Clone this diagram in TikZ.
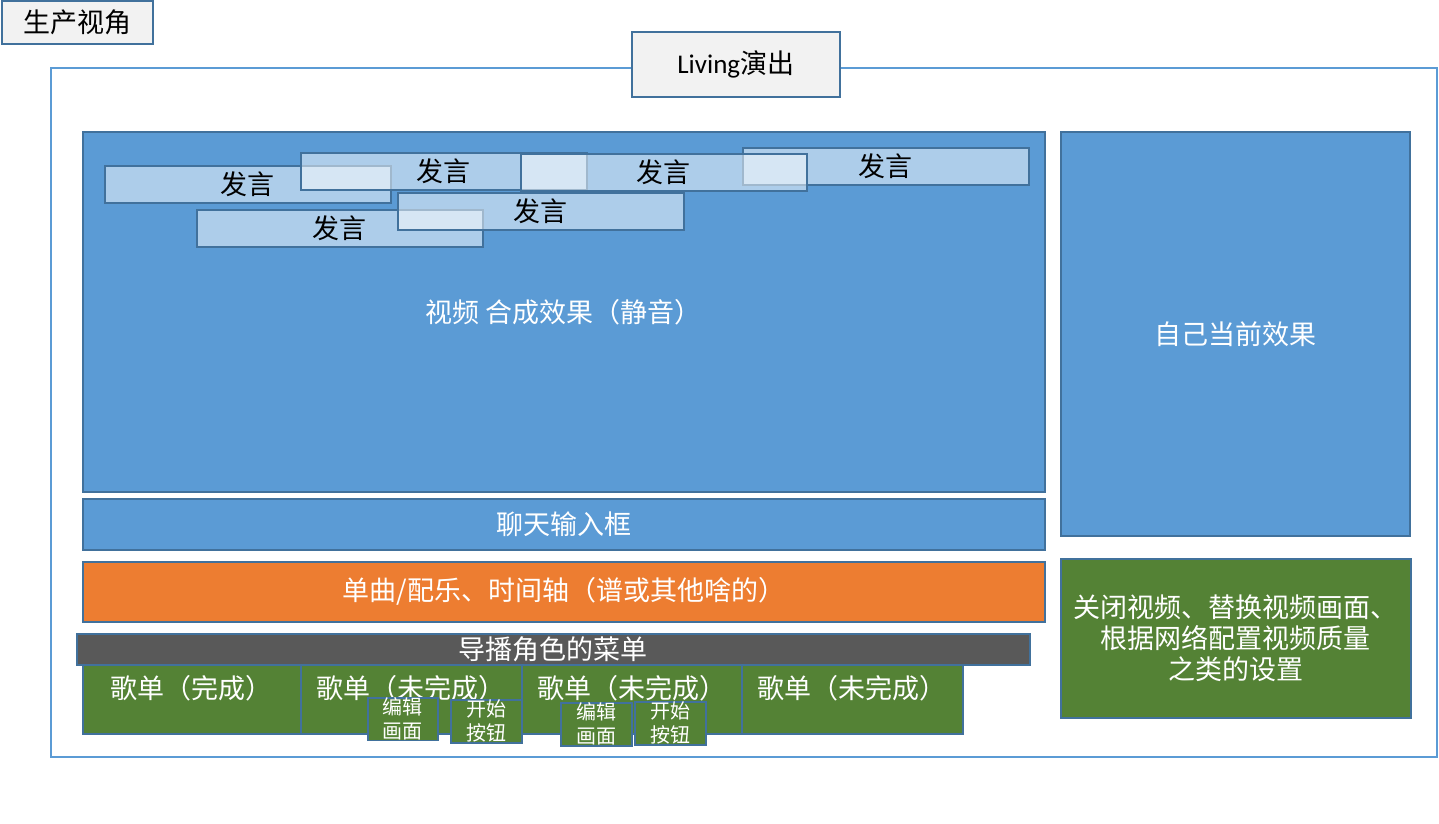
\documentclass[tikz,border=0pt]{standalone}
\usepackage{fontspec}
\newfontfamily\cjk{Noto Sans CJK SC}
\newfontfamily\lat{Carlito}
\definecolor{bfill}{HTML}{5B9BD5}
\definecolor{bdr}{HTML}{41719C}
\definecolor{lgray}{HTML}{F2F2F2}
\definecolor{orng}{HTML}{ED7D31}
\definecolor{grn}{HTML}{548235}
\definecolor{dgray}{HTML}{595959}
\begin{document}
\begin{tikzpicture}[x=1pt,y=-1pt,
  box/.style={draw=bdr, line width=1.6pt, inner sep=0pt, anchor=north west, font=\cjk\fontsize{27}{31}\selectfont},
  bluebox/.style={box, fill=bfill, text=white},
  graybox/.style={box, fill=lgray, text=black},
  greenbox/.style={box, fill=grn, text=white},
  speech/.style={box, fill=white, fill opacity=0.5, text opacity=1, text=black, minimum width=286pt, minimum height=37pt},
  btn/.style={box, fill=grn, text=white, align=center, font=\cjk\fontsize{20}{24}\selectfont},
  txt/.style={inner sep=0pt, font=\cjk\fontsize{27}{31}\selectfont, text=white}
]
\useasboundingbox (0,0) rectangle (1439,823);
% outer frame
\node[draw=bfill, line width=1.5pt, inner sep=0pt, anchor=north west, minimum width=1386pt, minimum height=689pt] (stage) at (50,67) {};
% title boxes
\node[graybox, minimum width=151pt, minimum height=43pt] (view) at (1,0) {生产视角};
\node[graybox, minimum width=208pt, minimum height=65pt] (living) at (631,31) {{\lat Living}演出};
% main areas
\node[bluebox, minimum width=962pt, minimum height=360pt] (video) at (82,131) {视频 合成效果（静音）};
\node[bluebox, minimum width=349pt, minimum height=404pt] (self) at (1060,131) {自己当前效果};
\node[bluebox, minimum width=962pt, minimum height=51pt] (chat) at (82,498) {聊天输入框};
\node[box, fill=orng, text=white, minimum width=962pt, minimum height=60pt] (track) at (82,561) {单曲/配乐、时间轴（谱或其他啥的）};
\node[greenbox, minimum width=350pt, minimum height=159pt, align=center] (settings) at (1060,558) {关闭视频、替换视频画面、\\根据网络配置视频质量\\之类的设置};
% speech bubbles
\node[speech] (sp4) at (742,147) {发言};
\node[speech] (sp1) at (104,165) {发言};
\node[speech] (sp2) at (300,152) {发言};
\node[speech] (sp3) at (520,153) {发言};
\node[speech] (sp5) at (196,209) {发言};
\node[speech] (sp6) at (397,192) {发言};
% songs
\node[greenbox, minimum width=218pt, minimum height=69pt] (song1) at (82,664) {};
\node[greenbox, minimum width=221pt, minimum height=69pt] (song2) at (300,664) {};
\node[greenbox, minimum width=220pt, minimum height=69pt] (song3) at (521,664) {};
\node[greenbox, minimum width=221pt, minimum height=69pt] (song4) at (741,664) {};
\node[txt] (song1t) at ([yshift=-24pt]song1.north) {歌单（完成）};
\node[txt] (song2t) at ([yshift=-24pt]song2.north) {歌单（未完成）};
\node[txt] (song3t) at ([yshift=-24pt]song3.north) {歌单（未完成）};
\node[txt] (song4t) at ([yshift=-24pt]song4.north) {歌单（未完成）};
% menu bar
\node[box, fill=dgray, text=white, minimum width=953pt, minimum height=31pt] (menu) at (76,633) {导播角色的菜单};
% buttons
\node[btn, minimum width=70pt, minimum height=42pt] (edit2) at (367,697) {编辑\\画面};
\node[btn, minimum width=71pt, minimum height=43pt] (start2) at (450,699) {开始\\按钮};
\node[btn, minimum width=71pt, minimum height=43pt] (edit3) at (560,702) {编辑\\画面};
\node[btn, minimum width=71pt, minimum height=43pt] (start3) at (634,701) {开始\\按钮};
\end{tikzpicture}
\end{document}
